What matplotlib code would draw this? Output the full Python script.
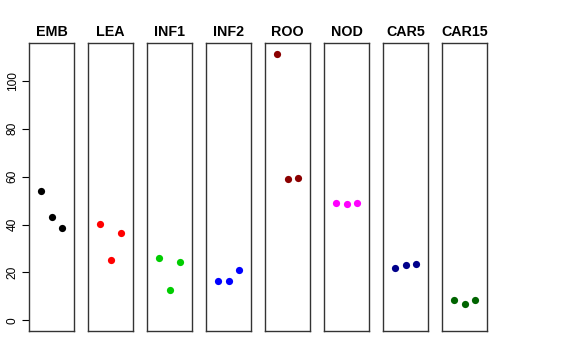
import matplotlib
matplotlib.use("Agg")
from matplotlib import pyplot

pyplot.rcParams['font.family'] = ['Liberation Sans', 'DejaVu Sans']

# -----------------------------------------------------------------------------
tissues = ["EMB", "LEA", "INF1", "INF2", "ROO", "NOD", "CAR5", "CAR15"]
colours = ["black", "red", "#00CD00", "blue", "darkred", "magenta", "darkblue", "darkgreen"]
emb = [54.0, 43.0, 38.6]
lea = [40.3, 25.1, 36.5]
inf1 = [26.2, 12.7, 24.3]
inf2 = [16.6, 16.6, 21.1]
roo = [111.4, 59.1, 59.3]
nod = [49.2, 48.7, 49.1]
car5 = [21.8, 23.3, 23.4]
car15 = [8.7, 6.8, 8.7]
replicates = [1, 2, 3]
yticks = [0, 20, 40, 60, 80, 100]

values = [emb, lea, inf1, inf2, roo, nod, car5, car15]
ymax = max(max(v) for v in values)

# -----------------------------------------------------------------------------
W, H = 576.0, 360.0
fig = pyplot.figure(figsize=(5.76, 3.6), dpi=100, facecolor='w')

for k, (name, col, vals) in enumerate(zip(tissues, colours, values)):
    x0 = 29 + 59 * k
    ax = fig.add_axes([x0 / W, 1 - 331 / H, 45 / W, 288 / H])
    ax.plot(replicates, vals, 'o', color=col, markersize=5.2, markeredgewidth=0)
    ax.set_xlim(-0.16, 4.16)
    pad = 0.04 * ymax
    ax.set_ylim(-pad, ymax + pad)
    ax.set_xticks([])
    for s in ax.spines.values():
        s.set_color('#333333')
        s.set_linewidth(1.0)
    ax.set_title(name, fontsize=10.3, fontweight='bold', pad=5)
    if k == 0:
        ax.set_yticks(yticks)
        ax.set_yticklabels([str(t) for t in yticks], rotation=90, va='center',
                           fontsize=8.6)
        ax.tick_params(axis='y', length=5, width=0.8, pad=2.5)
    else:
        ax.set_yticks([])

fig.savefig('out.png', dpi=100)
